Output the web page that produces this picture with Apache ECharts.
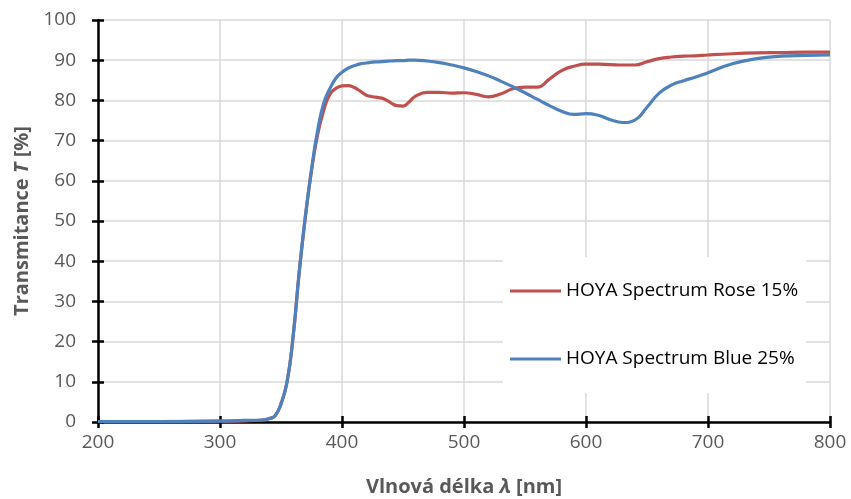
<!DOCTYPE html>
<html>
<head>
<meta charset="utf-8">
<script src="https://cdn.jsdelivr.net/npm/echarts@6/dist/echarts.min.js"></script>
<style>
  html, body { margin: 0; padding: 0; background: #fff; }
  #chart { width: 851px; height: 499px; }
</style>
</head>
<body>
<div id="chart"></div>
<script>
// wavelength [nm]
var wavelengths = [200, 250, 300, 320, 335, 340, 345, 350, 355, 360, 365, 370, 375, 380, 385, 390, 395, 400, 405, 410, 415, 420, 425, 430, 435, 440, 445, 450, 455, 460, 470, 480, 490, 500, 510, 520, 530, 540, 550, 560, 570, 580, 590, 600, 610, 620, 630, 640, 650, 660, 670, 680, 690, 700, 720, 740, 760, 780, 800];

// transmitance [%]
var roseValues = [0.1, 0.1, 0.2, 0.3, 0.5, 0.8, 1.5, 4.5, 10, 21.5, 37.5, 51, 62.5, 71.5, 77.5, 81.5, 83, 83.6, 83.7, 83.2, 82.3, 81.3, 80.9, 80.7, 80.3, 79.4, 78.7, 78.6, 79.6, 81, 82, 82, 81.8, 81.9, 81.5, 80.9, 81.6, 82.9, 83.3, 83.3, 85.3, 87.4, 88.5, 89, 89, 88.9, 88.8, 88.8, 89.6, 90.4, 90.8, 91, 91.1, 91.3, 91.6, 91.8, 91.9, 92, 92];
var blueValues = [0.1, 0.1, 0.2, 0.4, 0.5, 0.8, 1.5, 4.5, 10, 21.5, 37.5, 51.3, 62.8, 72.5, 79.3, 82.9, 85.5, 87, 88, 88.6, 89.1, 89.3, 89.5, 89.6, 89.7, 89.8, 89.9, 89.9, 90, 90, 89.8, 89.4, 88.8, 88.1, 87.2, 86.1, 84.8, 83.4, 81.9, 80.3, 78.7, 77.3, 76.5, 76.7, 76.3, 75.2, 74.5, 75.1, 78.3, 81.8, 83.8, 84.9, 85.8, 86.9, 89.1, 90.4, 91, 91.2, 91.3];

var seriesNames = ['HOYA Spectrum Rose 15%', 'HOYA Spectrum Blue 25%'];

function pairs(xs, ys) {
  var out = [];
  for (var i = 0; i < xs.length; i++) out.push([xs[i], ys[i]]);
  return out;
}

var font = 'Open Sans';
var myChart = echarts.init(document.getElementById('chart'));

var titleStyle = {
  fontFamily: font, fontSize: 20, fontWeight: 'bold', color: '#595959',
  rich: { i: { fontFamily: font, fontSize: 20, fontWeight: 'bold', fontStyle: 'italic', color: '#595959' } }
};

var option = {
  animation: false,
  grid: { left: 98, right: 21, top: 20, bottom: 77, outerBoundsMode: 'none', containLabel: false },
  legend: {
    data: seriesNames,
    orient: 'vertical',
    left: 503,
    top: 257,
    backgroundColor: '#fff',
    padding: [22, 8, 22, 7],
    itemGap: 44,
    itemWidth: 51,
    itemHeight: 3,
    icon: 'rect',
    textStyle: { fontFamily: font, fontSize: 19, color: '#000', lineHeight: 24 }
  },
  xAxis: [
    {
      type: 'value',
      min: 200, max: 800, interval: 100,
      name: 'Vlnová délka {i|λ} [nm]',
      nameLocation: 'middle',
      nameGap: 55,
      nameTextStyle: titleStyle,
      axisLine: { onZero: false, lineStyle: { color: '#000', width: 2.5 } },
      axisTick: { show: true, length: 6, lineStyle: { color: '#000', width: 2.5 } },
      axisLabel: { margin: 11, fontFamily: font, fontSize: 19, color: '#595959' },
      splitLine: { show: true, lineStyle: { color: '#d9d9d9', width: 1.5 } }
    },
    {
      type: 'value',
      min: 200, max: 800, interval: 100,
      position: 'bottom',
      axisLine: { show: false },
      axisTick: { show: true, inside: true, length: 6, lineStyle: { color: '#000', width: 2.5 } },
      axisLabel: { show: false },
      splitLine: { show: false }
    }
  ],
  yAxis: [
    {
      type: 'value',
      min: 0, max: 100, interval: 10,
      name: 'Transmitance {i|T} [%]',
      nameLocation: 'middle',
      nameGap: 66,
      nameTextStyle: titleStyle,
      axisLine: { show: true, onZero: false, lineStyle: { color: '#000', width: 2.5 } },
      axisTick: { show: true, length: 6, lineStyle: { color: '#000', width: 2.5 } },
      axisLabel: { margin: 22, fontFamily: font, fontSize: 19, color: '#595959' },
      splitLine: { show: true, lineStyle: { color: '#d9d9d9', width: 1.5 } }
    },
    {
      type: 'value',
      min: 0, max: 100, interval: 10,
      position: 'left',
      axisLine: { show: false },
      axisTick: { show: true, inside: true, length: 6, lineStyle: { color: '#000', width: 2.5 } },
      axisLabel: { show: false },
      splitLine: { show: false }
    }
  ],
  series: [
    {
      name: seriesNames[0],
      type: 'line',
      smooth: true,
      symbol: 'none',
      data: pairs(wavelengths, roseValues),
      itemStyle: { color: '#c0504d' },
      lineStyle: { color: '#c0504d', width: 3.2 }
    },
    {
      name: seriesNames[1],
      type: 'line',
      smooth: true,
      symbol: 'none',
      data: pairs(wavelengths, blueValues),
      itemStyle: { color: '#4f81bd' },
      lineStyle: { color: '#4f81bd', width: 3.2 }
    }
  ]
};

myChart.setOption(option);
</script>
</body>
</html>
